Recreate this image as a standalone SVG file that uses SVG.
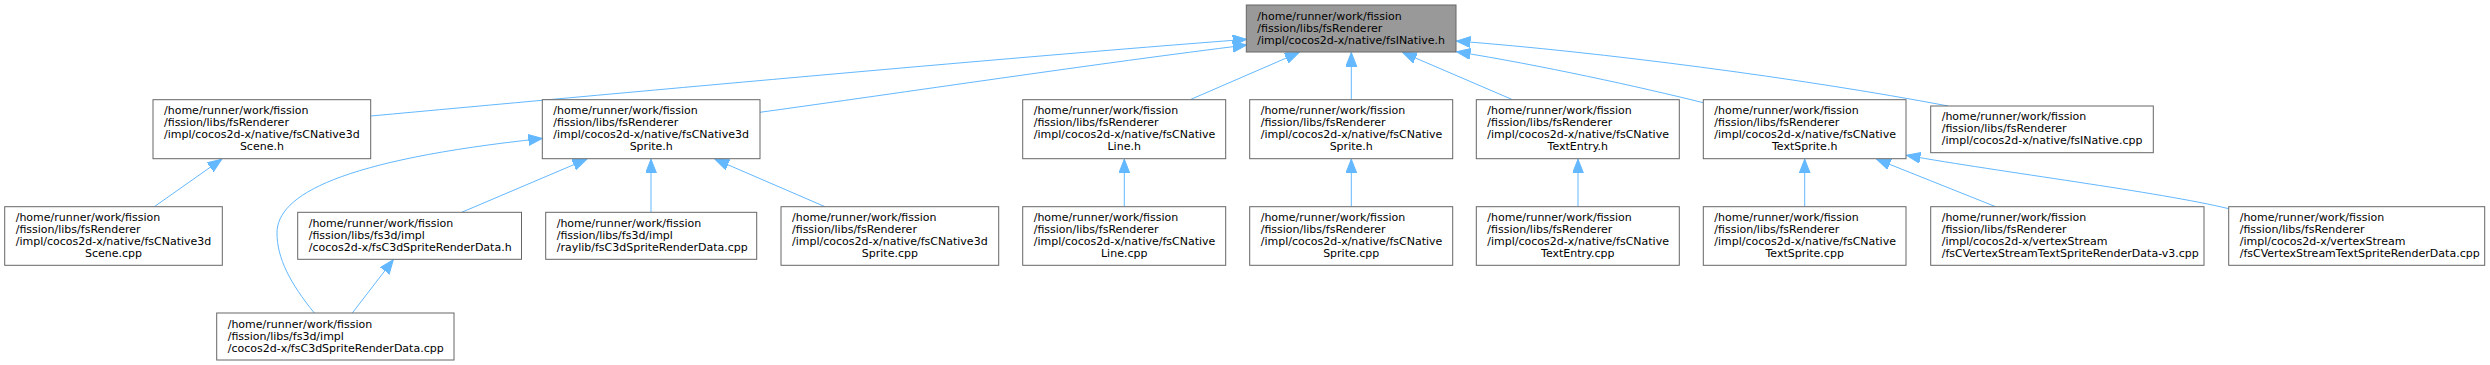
<svg xmlns="http://www.w3.org/2000/svg" width="2490" height="365" viewBox="0 0 2490 365">
<style>
.n{fill:#ffffff;stroke:#666666;stroke-width:1}
.m{fill:#999999;stroke:#666666;stroke-width:1}
text{font-family:"DejaVu Sans",sans-serif;font-size:11px;fill:#000000}
.c{text-anchor:middle}
.e{fill:none;stroke:#63b8ff;stroke-width:1;marker-end:url(#ah)}
</style>
<defs>
<marker id="ah" markerUnits="userSpaceOnUse" markerWidth="15" markerHeight="12" refX="14" refY="5.5" orient="auto">
<path d="M0,0 L14,5.5 L0,11 z" fill="#63b8ff" stroke="#63b8ff" stroke-width="1"/>
</marker>
</defs>
<rect width="2490" height="365" fill="#ffffff"/>
<g id="edges">
<path class="e" d="M370.7,116 C600,95 1000,58 1246.7,39.3"/>
<path class="e" d="M760,112.3 C900,93 1100,63 1246.7,45"/>
<path class="e" d="M1191,99.3 L1299,52.5"/>
<path class="e" d="M1351.3,99.7 L1351.3,52.5"/>
<path class="e" d="M1511.7,99.3 L1402.7,52.5"/>
<path class="e" d="M1703.3,102.7 C1640,87 1540,65 1456.5,51.7"/>
<path class="e" d="M1948.3,106 C1800,78 1600,52 1456.5,41"/>
<path class="e" d="M154.3,206.7 L221.7,159.2"/>
<path class="e" d="M314.3,313 C290,283 277,258 277,233 C277,195 340,160 542.3,138.5"/>
<path class="e" d="M352.3,313 L393.3,259.8"/>
<path class="e" d="M461.7,212.3 L586.7,159.2"/>
<path class="e" d="M651,212.3 L651,159.2"/>
<path class="e" d="M825,206.7 L715,159.2"/>
<path class="e" d="M1124.3,206.7 L1124.3,159.2"/>
<path class="e" d="M1351.3,206.7 L1351.3,159.2"/>
<path class="e" d="M1578,206.7 L1578,159.2"/>
<path class="e" d="M1804.7,206.7 L1804.7,159.2"/>
<path class="e" d="M1995.7,206.7 L1876.7,159.2"/>
<path class="e" d="M2228.7,208.7 C2160,192 2000,172 1906.5,155.3"/>
</g>
<g id="node-fsINative-h">
<rect class="m" x="1246.3" y="5" width="209.7" height="47"/>
<text x="1257.3" y="19.6">/home/runner/work/fission</text>
<text x="1257.3" y="31.6">/fission/libs/fsRenderer</text>
<text x="1257.3" y="43.6">/impl/cocos2d-x/native/fsINative.h</text>
</g>
<g id="node-fsCNative3dScene-h">
<rect class="n" x="153" y="99.7" width="217.7" height="59"/>
<text x="164" y="114.3">/home/runner/work/fission</text>
<text x="164" y="126.3">/fission/libs/fsRenderer</text>
<text x="164" y="138.3">/impl/cocos2d-x/native/fsCNative3d</text>
<text class="c" x="261.9" y="150.3">Scene.h</text>
</g>
<g id="node-fsCNative3dSprite-h">
<rect class="n" x="542.3" y="99.7" width="217.7" height="59"/>
<text x="553.3" y="114.3">/home/runner/work/fission</text>
<text x="553.3" y="126.3">/fission/libs/fsRenderer</text>
<text x="553.3" y="138.3">/impl/cocos2d-x/native/fsCNative3d</text>
<text class="c" x="651.2" y="150.3">Sprite.h</text>
</g>
<g id="node-fsCNativeLine-h">
<rect class="n" x="1022.7" y="99.7" width="203" height="59"/>
<text x="1033.7" y="114.3">/home/runner/work/fission</text>
<text x="1033.7" y="126.3">/fission/libs/fsRenderer</text>
<text x="1033.7" y="138.3">/impl/cocos2d-x/native/fsCNative</text>
<text class="c" x="1124.2" y="150.3">Line.h</text>
</g>
<g id="node-fsCNativeSprite-h">
<rect class="n" x="1249.7" y="99.7" width="203" height="59"/>
<text x="1260.7" y="114.3">/home/runner/work/fission</text>
<text x="1260.7" y="126.3">/fission/libs/fsRenderer</text>
<text x="1260.7" y="138.3">/impl/cocos2d-x/native/fsCNative</text>
<text class="c" x="1351.2" y="150.3">Sprite.h</text>
</g>
<g id="node-fsCNativeTextEntry-h">
<rect class="n" x="1476.3" y="99.7" width="203" height="59"/>
<text x="1487.3" y="114.3">/home/runner/work/fission</text>
<text x="1487.3" y="126.3">/fission/libs/fsRenderer</text>
<text x="1487.3" y="138.3">/impl/cocos2d-x/native/fsCNative</text>
<text class="c" x="1577.8" y="150.3">TextEntry.h</text>
</g>
<g id="node-fsCNativeTextSprite-h">
<rect class="n" x="1703.3" y="99.7" width="202.7" height="59"/>
<text x="1714.3" y="114.3">/home/runner/work/fission</text>
<text x="1714.3" y="126.3">/fission/libs/fsRenderer</text>
<text x="1714.3" y="138.3">/impl/cocos2d-x/native/fsCNative</text>
<text class="c" x="1804.7" y="150.3">TextSprite.h</text>
</g>
<g id="node-fsINative-cpp">
<rect class="n" x="1930.7" y="106" width="222.6" height="46.7"/>
<text x="1941.7" y="120.3">/home/runner/work/fission</text>
<text x="1941.7" y="132.3">/fission/libs/fsRenderer</text>
<text x="1941.7" y="144.3">/impl/cocos2d-x/native/fsINative.cpp</text>
</g>
<g id="node-fsCNative3dScene-cpp">
<rect class="n" x="4.7" y="206.7" width="217.6" height="58.6"/>
<text x="15.7" y="221">/home/runner/work/fission</text>
<text x="15.7" y="233">/fission/libs/fsRenderer</text>
<text x="15.7" y="245">/impl/cocos2d-x/native/fsCNative3d</text>
<text class="c" x="113.5" y="257">Scene.cpp</text>
</g>
<g id="node-cocos-fsC3dSpriteRenderData-h">
<rect class="n" x="297.7" y="212.3" width="223.8" height="47"/>
<text x="308.7" y="227">/home/runner/work/fission</text>
<text x="308.7" y="239">/fission/libs/fs3d/impl</text>
<text x="308.7" y="251">/cocos2d-x/fsC3dSpriteRenderData.h</text>
</g>
<g id="node-raylib-fsC3dSpriteRenderData-cpp">
<rect class="n" x="545.7" y="212.3" width="211" height="47"/>
<text x="556.7" y="227">/home/runner/work/fission</text>
<text x="556.7" y="239">/fission/libs/fs3d/impl</text>
<text x="556.7" y="251">/raylib/fsC3dSpriteRenderData.cpp</text>
</g>
<g id="node-fsCNative3dSprite-cpp">
<rect class="n" x="781" y="206.7" width="217.7" height="58.6"/>
<text x="792" y="221">/home/runner/work/fission</text>
<text x="792" y="233">/fission/libs/fsRenderer</text>
<text x="792" y="245">/impl/cocos2d-x/native/fsCNative3d</text>
<text class="c" x="889.9" y="257">Sprite.cpp</text>
</g>
<g id="node-fsCNativeLine-cpp">
<rect class="n" x="1022.7" y="206.7" width="203" height="58.6"/>
<text x="1033.7" y="221">/home/runner/work/fission</text>
<text x="1033.7" y="233">/fission/libs/fsRenderer</text>
<text x="1033.7" y="245">/impl/cocos2d-x/native/fsCNative</text>
<text class="c" x="1124.2" y="257">Line.cpp</text>
</g>
<g id="node-fsCNativeSprite-cpp">
<rect class="n" x="1249.7" y="206.7" width="203" height="58.6"/>
<text x="1260.7" y="221">/home/runner/work/fission</text>
<text x="1260.7" y="233">/fission/libs/fsRenderer</text>
<text x="1260.7" y="245">/impl/cocos2d-x/native/fsCNative</text>
<text class="c" x="1351.2" y="257">Sprite.cpp</text>
</g>
<g id="node-fsCNativeTextEntry-cpp">
<rect class="n" x="1476.3" y="206.7" width="203" height="58.6"/>
<text x="1487.3" y="221">/home/runner/work/fission</text>
<text x="1487.3" y="233">/fission/libs/fsRenderer</text>
<text x="1487.3" y="245">/impl/cocos2d-x/native/fsCNative</text>
<text class="c" x="1577.8" y="257">TextEntry.cpp</text>
</g>
<g id="node-fsCNativeTextSprite-cpp">
<rect class="n" x="1703.3" y="206.7" width="202.7" height="58.6"/>
<text x="1714.3" y="221">/home/runner/work/fission</text>
<text x="1714.3" y="233">/fission/libs/fsRenderer</text>
<text x="1714.3" y="245">/impl/cocos2d-x/native/fsCNative</text>
<text class="c" x="1804.7" y="257">TextSprite.cpp</text>
</g>
<g id="node-fsCVertexStreamTextSpriteRenderData-v3-cpp">
<rect class="n" x="1930.7" y="206.7" width="273.3" height="58.6"/>
<text x="1941.7" y="221">/home/runner/work/fission</text>
<text x="1941.7" y="233">/fission/libs/fsRenderer</text>
<text x="1941.7" y="245">/impl/cocos2d-x/vertexStream</text>
<text x="1941.7" y="257">/fsCVertexStreamTextSpriteRenderData-v3.cpp</text>
</g>
<g id="node-fsCVertexStreamTextSpriteRenderData-cpp">
<rect class="n" x="2228.7" y="206.7" width="256" height="58.6"/>
<text x="2239.7" y="221">/home/runner/work/fission</text>
<text x="2239.7" y="233">/fission/libs/fsRenderer</text>
<text x="2239.7" y="245">/impl/cocos2d-x/vertexStream</text>
<text x="2239.7" y="257">/fsCVertexStreamTextSpriteRenderData.cpp</text>
</g>
<g id="node-cocos-fsC3dSpriteRenderData-cpp">
<rect class="n" x="216.7" y="313" width="237.3" height="47"/>
<text x="227.7" y="327.6">/home/runner/work/fission</text>
<text x="227.7" y="339.6">/fission/libs/fs3d/impl</text>
<text x="227.7" y="351.6">/cocos2d-x/fsC3dSpriteRenderData.cpp</text>
</g>
</svg>
